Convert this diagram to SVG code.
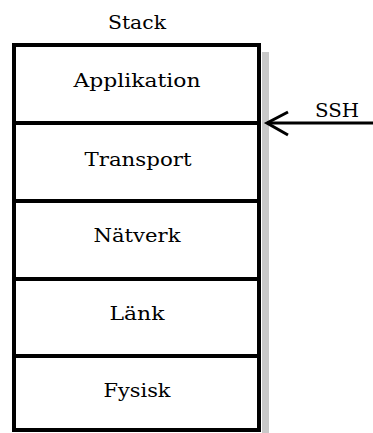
<svg xmlns="http://www.w3.org/2000/svg" width="373" height="433" viewBox="0 0 373 433">
  <style>
    .lbl { font-family: "DejaVu Serif", "Liberation Serif", serif; font-size: 19px; fill: #000; text-anchor: middle; }
    .layer { fill: #fff; stroke: #000; stroke-width: 4; }
    .shadow { fill: #c8c8c8; }
    .conn { stroke: #000; stroke-width: 3; fill: none; }
  </style>
  <rect width="373" height="433" fill="#fff"/>
  <text class="lbl" x="137" y="29" textLength="58" lengthAdjust="spacingAndGlyphs">Stack</text>
  <!-- drop shadow of the stack -->
  <rect class="shadow" x="262" y="52" width="7" height="381"/>
  <g id="applikation">
    <rect class="layer" x="14" y="45" width="245" height="78"/>
    <text class="lbl" x="137" y="87" textLength="127" lengthAdjust="spacingAndGlyphs">Applikation</text>
  </g>
  <g id="transport">
    <rect class="layer" x="14" y="123" width="245" height="78"/>
    <text class="lbl" x="138" y="166" textLength="107" lengthAdjust="spacingAndGlyphs">Transport</text>
  </g>
  <g id="natverk">
    <rect class="layer" x="14" y="201" width="245" height="78"/>
    <text class="lbl" x="137" y="242" textLength="87" lengthAdjust="spacingAndGlyphs">Nätverk</text>
  </g>
  <g id="lank">
    <rect class="layer" x="14" y="279" width="245" height="77"/>
    <text class="lbl" x="137" y="320" textLength="55" lengthAdjust="spacingAndGlyphs">Länk</text>
  </g>
  <g id="fysisk">
    <rect class="layer" x="14" y="356" width="245" height="74"/>
    <text class="lbl" x="137" y="397" textLength="67" lengthAdjust="spacingAndGlyphs">Fysisk</text>
  </g>
  <g id="connectors">
    <line class="conn" x1="373" y1="123" x2="267" y2="123"/>
    <polyline class="conn" points="288,112 267,123 288,135"/>
    <text class="lbl" x="337" y="117" textLength="44" lengthAdjust="spacingAndGlyphs">SSH</text>
  </g>
</svg>
